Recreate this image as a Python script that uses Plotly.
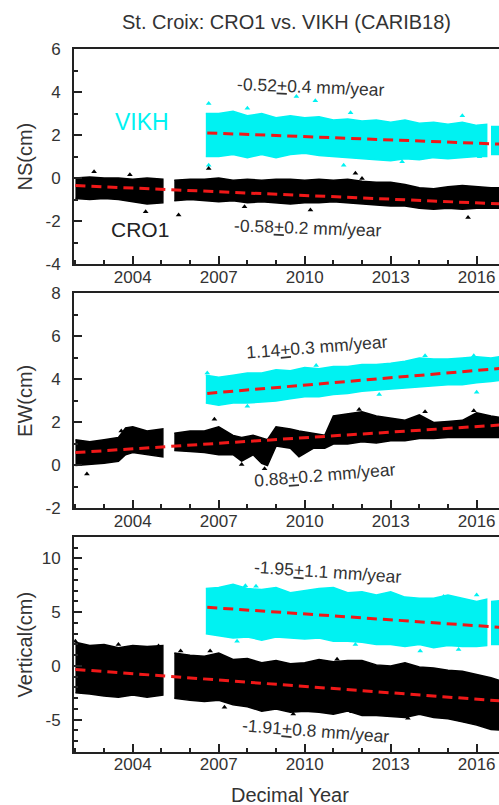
import plotly.graph_objects as go

# ---------------- data ----------------
# NS component (cm)
NS_CRO1_T = [2002.0, 2002.5, 2003.0, 2003.5, 2004.0, 2004.5, 2005.05, None,
             2005.45, 2006.0, 2006.5, 2007.0, 2007.5, 2008.0, 2008.5, 2009.0, 2009.5,
             2010.0, 2010.5, 2011.0, 2011.5, 2012.0, 2012.5, 2013.0, 2013.5, 2014.0,
             2014.5, 2015.0, 2015.5, 2016.0, 2016.5, 2017.0]
NS_CRO1_HI = [0.0, 0.05, 0.0, 0.0, -0.05, 0.0, -0.05, None,
              -0.1, -0.05, -0.05, 0.0, -0.1, -0.05, -0.1, -0.05, -0.05,
              -0.1, -0.05, -0.1, -0.05, -0.15, -0.2, -0.2, -0.3, -0.45,
              -0.5, -0.4, -0.35, -0.4, -0.45, -0.45]
NS_CRO1_LO = [-0.95, -1.0, -0.95, -1.0, -1.1, -1.2, -1.15, None,
              -1.05, -1.0, -1.05, -1.1, -1.05, -1.15, -1.1, -1.15, -1.2,
              -1.15, -1.15, -1.1, -1.15, -1.2, -1.25, -1.3, -1.3, -1.4,
              -1.45, -1.4, -1.45, -1.4, -1.4, -1.4]
NS_VIKH_T = [2006.55, 2007.0, 2007.5, 2008.0, 2008.5, 2009.0, 2009.5, 2010.0, 2010.5,
             2011.0, 2011.5, 2012.0, 2012.5, 2013.0, 2013.5, 2014.0, 2014.5, 2015.0,
             2015.5, 2016.0, 2016.35, None, 2016.5, 2017.0]
NS_VIKH_HI = [3.0, 3.0, 3.1, 2.9, 3.0, 2.8, 2.9, 2.8, 2.85,
              2.7, 2.75, 2.65, 2.7, 2.6, 2.7, 2.55, 2.6, 2.5,
              2.6, 2.45, 2.5, None, 2.4, 2.4]
NS_VIKH_LO = [1.0, 1.0, 1.1, 0.95, 1.1, 0.95, 1.1, 1.15, 1.05,
              1.0, 0.95, 0.9, 0.85, 0.8, 0.9, 0.85, 0.95, 0.9,
              0.95, 1.0, 1.0, None, 1.1, 1.1]
NS_CRO1_OUT_T = [2002.65, 2004.45, 2005.6, 2006.65, 2007.9, 2010.2, 2011.77, 2012.0, 2015.7, 2003.9]
NS_CRO1_OUT_V = [0.29, -1.57, -1.72, 0.45, -1.33, -1.49, 0.22, -0.02, -1.83, 0.15]
NS_VIKH_OUT_T = [2006.65, 2006.65, 2008.0, 2009.71, 2010.37, 2011.6, 2015.5, 2011.36, 2013.4, 2016.1]
NS_VIKH_OUT_V = [3.47, 0.6, 3.24, 3.79, 3.6, 3.04, 2.9, 0.6, 0.76, 0.99]
NS_CRO1_TREND_T = [2002.0, 2016.8]
NS_CRO1_TREND_V = [-0.35, -1.2]
NS_VIKH_TREND_T = [2006.6, 2016.8]
NS_VIKH_TREND_V = [2.1, 1.58]

# EW component (cm)
EW_CRO1_T = [2002.0, 2002.5, 2003.0, 2003.5, 2003.75, 2004.0, 2004.5, 2005.05, None,
             2005.45, 2006.0, 2006.5, 2007.0, 2007.5, 2007.8, 2008.2, 2008.5, 2008.7,
             2009.0, 2009.5, 2009.8, 2010.3, 2010.7, 2011.0, 2011.5, 2012.0, 2012.5,
             2013.0, 2013.5, 2014.0, 2014.5, 2015.0, 2015.5, 2016.0, 2016.5, 2017.0]
EW_CRO1_HI = [1.2, 1.1, 1.2, 1.3, 1.75, 1.8, 1.6, 1.7, None,
              1.5, 1.6, 1.6, 1.8, 1.4, 1.3, 1.4, 1.3, 1.2,
              1.8, 1.7, 1.6, 1.5, 1.4, 2.3, 2.4, 2.5, 2.3,
              2.2, 2.1, 2.35, 2.0, 2.05, 2.1, 2.45, 2.3, 2.2]
EW_CRO1_LO = [0.0, 0.05, 0.1, 0.2, 0.5, 0.6, 0.5, 0.4, None,
              0.7, 0.65, 0.6, 0.5, 0.5, 0.2, 0.5, 0.1, 0.0,
              0.9, 0.8, 0.4, 0.8, 0.8, 1.0, 1.0, 1.1, 1.05,
              1.15, 1.15, 1.25, 1.25, 1.3, 1.3, 1.3, 1.3, 1.3]
EW_VIKH_T = [2006.55, 2007.0, 2007.5, 2008.0, 2008.5, 2009.0, 2009.5, 2010.0, 2010.5,
             2011.0, 2011.5, 2012.0, 2012.5, 2013.0, 2013.5, 2014.0, 2014.5, 2015.0,
             2015.5, 2016.0, 2016.5, 2017.0]
EW_VIKH_HI = [4.2, 4.1, 4.2, 4.3, 4.3, 4.45, 4.4, 4.55, 4.5,
              4.6, 4.6, 4.7, 4.7, 4.75, 4.85, 5.0, 4.95, 4.95,
              5.0, 5.05, 5.0, 5.1]
EW_VIKH_LO = [2.9, 2.8, 2.9, 2.9, 2.95, 3.0, 3.1, 3.2, 3.2,
              3.3, 3.35, 3.45, 3.5, 3.55, 3.6, 3.65, 3.7, 3.75,
              3.75, 3.85, 3.9, 4.0]
EW_CRO1_OUT_T = [2002.4, 2006.85, 2008.6, 2011.9, 2014.2, 2015.9, 2007.8, 2003.6]
EW_CRO1_OUT_V = [-0.4, 2.15, -0.15, 2.6, 2.5, 2.55, 0.05, 1.6]
EW_VIKH_OUT_T = [2006.6, 2010.4, 2014.2, 2015.9, 2016.0, 2008.0, 2012.6]
EW_VIKH_OUT_V = [4.3, 4.65, 5.1, 5.1, 3.4, 2.75, 3.3]
EW_CRO1_TREND_T = [2002.0, 2016.8]
EW_CRO1_TREND_V = [0.6, 1.88]
EW_VIKH_TREND_T = [2006.6, 2016.8]
EW_VIKH_TREND_V = [3.35, 4.51]

# Vertical component (cm)
UP_CRO1_T = [2002.0, 2002.5, 2003.0, 2003.5, 2004.0, 2004.5, 2005.05, None,
             2005.45, 2006.0, 2006.5, 2007.0, 2007.5, 2008.0, 2008.5, 2009.0, 2009.5,
             2010.0, 2010.5, 2011.0, 2011.5, 2012.0, 2012.5, 2013.0, 2013.5, 2014.0,
             2014.5, 2015.0, 2015.5, 2016.0, 2016.5, 2017.0]
UP_CRO1_HI = [2.2, 1.9, 2.0, 1.7, 1.9, 1.8, 1.9, None,
              1.2, 1.0, 0.9, 1.2, 0.6, 0.7, 0.3, 0.5, 0.2,
              0.3, 0.6, 0.4, 0.5, 0.5, 0.1, 0.0, 0.3, -0.1,
              -0.2, -0.4, -0.5, -0.8, -1.1, -1.5]
UP_CRO1_LO = [-2.5, -2.6, -2.8, -2.9, -2.7, -2.9, -2.7, None,
              -3.0, -3.2, -3.3, -3.2, -3.6, -3.8, -4.2, -4.0, -4.3,
              -4.2, -4.3, -4.5, -4.2, -4.6, -4.6, -4.7, -4.8, -4.5,
              -4.8, -4.9, -5.2, -5.5, -5.9, -6.0]
UP_VIKH_T = [2006.55, 2007.0, 2007.5, 2008.0, 2008.5, 2009.0, 2009.5, 2010.0, 2010.5,
             2011.0, 2011.5, 2012.0, 2012.5, 2013.0, 2013.5, 2014.0, 2014.5, 2015.0,
             2015.5, 2016.0, 2016.35, None, 2016.5, 2017.0]
UP_VIKH_HI = [7.2, 7.3, 7.6, 7.2, 7.1, 7.3, 6.8, 7.0, 7.2,
              7.3, 6.8, 6.9, 6.6, 6.9, 6.4, 6.3, 6.3, 6.6,
              6.3, 6.0, 6.2, None, 6.0, 6.1]
UP_VIKH_LO = [3.0, 2.8, 2.6, 2.7, 2.4, 2.7, 2.6, 2.5, 2.6,
              2.3, 2.3, 2.2, 2.0, 2.0, 1.8, 2.0, 1.7, 1.9,
              1.8, 1.8, 1.9, None, 2.0, 2.0]
UP_CRO1_OUT_T = [2002.0, 2003.5, 2004.9, 2005.67, 2006.7, 2007.2, 2008.57, 2011.13, 2010.26, 2009.6, 2011.65, 2013.6]
UP_CRO1_OUT_V = [2.3, 2.0, 1.85, 1.38, 1.38, -3.85, -4.0, 0.62, -4.15, -4.46, -4.25, -4.86]
UP_VIKH_OUT_T = [2007.93, 2008.3, 2007.64, 2010.37, 2014.85, 2016.0, 2011.77, 2014.03, 2015.37]
UP_VIKH_OUT_V = [7.45, 7.4, 2.3, 6.92, 6.46, 6.6, 2.0, 1.38, 1.54]
UP_CRO1_TREND_T = [2002.0, 2016.8]
UP_CRO1_TREND_V = [-0.32, -3.25]
UP_VIKH_TREND_T = [2006.6, 2016.8]
UP_VIKH_TREND_V = [5.45, 3.6]

# tick labels
X_TICKS = [2004, 2007, 2010, 2013, 2016]
X_TICKTEXT = ["2004", "2007", "2010", "2013", "2016"]
NS_TICKS = [-4, -2, 0, 2, 4, 6]
NS_TICKTEXT = ["-4", "-2", "0", "2", "4", "6"]
EW_TICKS = [-2, 0, 2, 4, 6, 8]
EW_TICKTEXT = ["-2", "0", "2", "4", "6", "8"]
UP_TICKS = [-5, 0, 5, 10]
UP_TICKTEXT = ["-5", "0", "5", "10"]

# rate labels
NS_RATES = ["-0.52<u>+</u>0.4 mm/year", "-0.58<u>+</u>0.2 mm/year"]
EW_RATES = ["1.14<u>+</u>0.3 mm/year", "0.88<u>+</u>0.2 mm/year"]
UP_RATES = ["-1.95<u>+</u>1.1 mm/year", "-1.91<u>+</u>0.8 mm/year"]

# ---------------- styling ----------------
CYAN = "#00F2F2"
BLACK = "#000000"
RED = "#F01818"
TXT = "#333333"
AX = "#222222"
FONT = "Liberation Sans, Arial, sans-serif"


def band_polygon(t, hi, lo):
    xs, ys = [], []
    seg_t, seg_h, seg_l = [], [], []
    for a, b, c in list(zip(t, hi, lo)) + [(None, None, None)]:
        if a is None:
            if seg_t:
                xs += seg_t + seg_t[::-1] + [None]
                ys += seg_h + seg_l[::-1] + [None]
            seg_t, seg_h, seg_l = [], [], []
        else:
            seg_t.append(a)
            seg_h.append(b)
            seg_l.append(c)
    return xs, ys


fig = go.Figure()

panels = [
    ("x", "y", NS_VIKH_T, NS_VIKH_HI, NS_VIKH_LO, NS_VIKH_OUT_T, NS_VIKH_OUT_V,
     NS_CRO1_T, NS_CRO1_HI, NS_CRO1_LO, NS_CRO1_OUT_T, NS_CRO1_OUT_V,
     NS_CRO1_TREND_T, NS_CRO1_TREND_V, NS_VIKH_TREND_T, NS_VIKH_TREND_V),
    ("x2", "y2", EW_VIKH_T, EW_VIKH_HI, EW_VIKH_LO, EW_VIKH_OUT_T, EW_VIKH_OUT_V,
     EW_CRO1_T, EW_CRO1_HI, EW_CRO1_LO, EW_CRO1_OUT_T, EW_CRO1_OUT_V,
     EW_CRO1_TREND_T, EW_CRO1_TREND_V, EW_VIKH_TREND_T, EW_VIKH_TREND_V),
    ("x3", "y3", UP_VIKH_T, UP_VIKH_HI, UP_VIKH_LO, UP_VIKH_OUT_T, UP_VIKH_OUT_V,
     UP_CRO1_T, UP_CRO1_HI, UP_CRO1_LO, UP_CRO1_OUT_T, UP_CRO1_OUT_V,
     UP_CRO1_TREND_T, UP_CRO1_TREND_V, UP_VIKH_TREND_T, UP_VIKH_TREND_V),
]

for (xa, ya, vt, vh, vl, vot, vov, ct, ch, cl, cot, cov,
     ctt, ctv, vtt, vtv) in panels:
    for (t, hi, lo, ot, ov, col) in [(vt, vh, vl, vot, vov, CYAN),
                                     (ct, ch, cl, cot, cov, BLACK)]:
        px, py = band_polygon(t, hi, lo)
        fig.add_trace(go.Scatter(x=px, y=py, xaxis=xa, yaxis=ya, mode="lines",
                                 fill="toself", fillcolor=col,
                                 line=dict(color=col, width=1.5),
                                 hoverinfo="skip", showlegend=False))
        fig.add_trace(go.Scatter(x=ot, y=ov, xaxis=xa, yaxis=ya, mode="markers",
                                 marker=dict(symbol="triangle-up", size=5, color=col,
                                             line=dict(width=0)),
                                 hoverinfo="skip", showlegend=False))
    for tt, tv in [(ctt, ctv), (vtt, vtv)]:
        fig.add_trace(go.Scatter(x=tt, y=tv, xaxis=xa, yaxis=ya, mode="lines",
                                 line=dict(color=RED, width=3, dash="10px,6px"),
                                 hoverinfo="skip", showlegend=False))

xcommon = dict(range=[2001.95, 2016.78], tickmode="array", tickvals=X_TICKS,
               ticktext=X_TICKTEXT, ticks="inside", ticklen=8, tickwidth=1.5,
               tickcolor=AX, showline=True, linecolor=AX, linewidth=2, mirror=True,
               showgrid=False, zeroline=False, ticklabelstandoff=-4,
               tickfont=dict(family=FONT, size=17, color=TXT),
               minor=dict(dtick=1, tick0=2004, ticks="inside", ticklen=4,
                          tickwidth=1.5, tickcolor=AX, showgrid=False))


def ycommon(rng, tv, tt, minor_dt, dom):
    return dict(range=rng, domain=dom, tickmode="array", tickvals=tv, ticktext=tt,
                ticks="inside", ticklen=8, tickwidth=1.5, tickcolor=AX,
                showline=True, linecolor=AX, linewidth=2, mirror=False,
                showgrid=False, zeroline=False, ticklabelstandoff=8,
                tickfont=dict(family=FONT, size=17, color=TXT),
                minor=dict(dtick=minor_dt, tick0=0, ticks="inside", ticklen=4,
                           tickwidth=1.5, tickcolor=AX, showgrid=False))


fig.update_layout(
    width=499, height=805,
    margin=dict(l=74, r=0, t=49, b=53),
    paper_bgcolor="white", plot_bgcolor="white",
    font=dict(family=FONT, color=TXT),
    title=dict(text="St. Croix: CRO1 vs. VIKH (CARIB18)", x=0.5, xref="paper",
               xanchor="center", y=1 - 22 / 805, yref="container", yanchor="middle",
               font=dict(family=FONT, size=20, color=TXT)),
    xaxis=dict(xcommon, anchor="y"),
    xaxis2=dict(xcommon, anchor="y2"),
    xaxis3=dict(xcommon, anchor="y3"),
    yaxis=ycommon([-4, 6], NS_TICKS, NS_TICKTEXT, 1, [0.694, 1.0]),
    yaxis2=ycommon([-2, 8], EW_TICKS, EW_TICKTEXT, 1, [0.3464, 0.6523]),
    yaxis3=ycommon([-8, 12], UP_TICKS, UP_TICKTEXT, 1, [0.0, 0.306]),
)

ann = []
# axis titles
for txt, yd in [("NS(cm)", "y domain"), ("EW(cm)", "y2 domain"), ("Vertical(cm)", "y3 domain")]:
    ann.append(dict(text=txt, xref="paper", x=(25 - 74) / 425, yref=yd, y=0.5,
                    textangle=-90, showarrow=False, xanchor="center", yanchor="middle",
                    font=dict(family=FONT, size=20, color=TXT)))
ann.append(dict(text="Decimal Year", xref="paper", x=(290 - 74) / 425, yref="paper",
                y=(751.7 - 795) / 703, showarrow=False, xanchor="center", yanchor="middle",
                font=dict(family=FONT, size=20, color=TXT)))
# station labels
ann.append(dict(text="VIKH", xref="x", yref="y", x=2004.34, y=2.6, showarrow=False,
                font=dict(family=FONT, size=23, color=CYAN)))
ann.append(dict(text="CRO1", xref="x", yref="y", x=2004.25, y=-2.37, showarrow=False,
                font=dict(family=FONT, size=21, color="#222222")))
# rate labels
rate_pos = [
    (NS_RATES[0], "x", "y", 2010.21, 4.23, 2.4),
    (NS_RATES[1], "x", "y", 2010.1, -2.33, 2.0),
    (EW_RATES[0], "x2", "y2", 2010.44, 5.52, -4.5),
    (EW_RATES[1], "x2", "y2", 2010.7, -0.45, -4.7),
    (UP_RATES[0], "x3", "y3", 2010.8, 8.76, 3.9),
    (UP_RATES[1], "x3", "y3", 2010.39, -6.01, 4.4),
]
for txt, xr, yr, xv, yv, ang in rate_pos:
    ann.append(dict(text=txt, xref=xr, yref=yr, x=xv, y=yv, textangle=ang,
                    showarrow=False, xanchor="center", yanchor="middle",
                    font=dict(family=FONT, size=17.5, color=TXT)))
fig.update_layout(annotations=ann)

fig.write_html("out.html", config={"displayModeBar": False},
               post_script="document.body.style.margin='0';"
                           "document.body.style.overflow='hidden';")
